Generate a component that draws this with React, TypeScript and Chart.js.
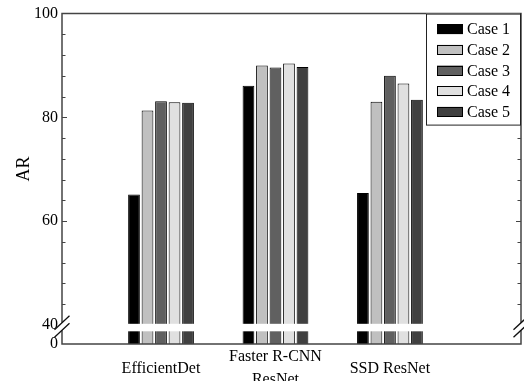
import React, { useEffect, useRef } from 'react';
import { Chart, registerables } from 'chart.js';

Chart.register(...registerables);

const categories = ['EfficientDet', 'Faster R-CNN\nResNet', 'SSD ResNet'];
const seriesNames = ['Case 1', 'Case 2', 'Case 3', 'Case 4', 'Case 5'];
const case1 = [65.1, 86.1, 65.4];
const case2 = [81.3, 90.0, 83.0];
const case3 = [83.1, 89.6, 88.0];
const case4 = [82.9, 90.4, 86.5];
const case5 = [82.8, 89.7, 83.4];
const seriesValues = [case1, case2, case3, case4, case5];
const seriesColors = ['#000000', '#c0c0c0', '#606060', '#e0e0e0', '#404040'];
const yMajorTicks = [40, 60, 80, 100];
const yBreakValue = 40;
const yAxisMin = 36.3;
const yAxisMax = 100;
const yMinorStep = 4;
const yBottomLabel = '0';
const yTitle = 'AR';

const FONT = '"Liberation Serif", "Times New Roman", serif';

const framePlugin = {
  id: 'brokenAxisFrame',
  afterDatasetsDraw(chart: any) {
    const { ctx, chartArea: a, scales } = chart;
    const y = scales.y;
    const yb = y.getPixelForValue(yBreakValue);
    const c1 = yb - 2;
    const c2 = yb + 5.5;
    ctx.save();
    // break band
    ctx.fillStyle = '#ffffff';
    ctx.fillRect(a.left + 1, yb - 1, a.right - a.left - 2, 7.5);
    // frame
    ctx.strokeStyle = '#444444';
    ctx.lineWidth = 1.5;
    ctx.beginPath();
    ctx.moveTo(a.left, c1);
    ctx.lineTo(a.left, a.top);
    ctx.lineTo(a.right, a.top);
    ctx.lineTo(a.right, c1);
    ctx.moveTo(a.left, c2);
    ctx.lineTo(a.left, a.bottom);
    ctx.lineTo(a.right, a.bottom);
    ctx.lineTo(a.right, c2);
    ctx.stroke();
    // inward ticks
    ctx.lineWidth = 1;
    ctx.beginPath();
    for (let v = yBreakValue + yMinorStep; v < yAxisMax; v += yMinorStep) {
      const py = Math.round(y.getPixelForValue(v)) + 0.5;
      const len = yMajorTicks.includes(v) ? 5 : 3.5;
      ctx.moveTo(a.left, py);
      ctx.lineTo(a.left + len, py);
      ctx.moveTo(a.right, py);
      ctx.lineTo(a.right - len, py);
    }
    ctx.stroke();
    // break slashes
    ctx.strokeStyle = '#111111';
    ctx.lineWidth = 1.3;
    ctx.beginPath();
    for (const x of [a.left, a.right]) {
      for (const c of [c1, c2]) {
        ctx.moveTo(x - 7.5, c + 7);
        ctx.lineTo(x + 7.5, c - 7);
      }
    }
    ctx.stroke();

    // legend
    const bw = 94;
    const bh = 111;
    const bx = a.right - 1 - bw;
    const by = a.top;
    ctx.fillStyle = '#ffffff';
    ctx.fillRect(bx, by, bw, bh);
    ctx.strokeStyle = '#222222';
    ctx.lineWidth = 1;
    ctx.strokeRect(bx + 0.5, by + 0.5, bw, bh);
    ctx.font = `16px ${FONT}`;
    ctx.textBaseline = 'middle';
    ctx.textAlign = 'left';
    chart.data.datasets.forEach((ds: any, i: number) => {
      const cy = by + 15.5 + i * 20.7;
      ctx.fillStyle = ds.backgroundColor;
      ctx.fillRect(bx + 11, cy - 5, 26, 10);
      ctx.strokeStyle = '#000000';
      ctx.strokeRect(bx + 11.5, Math.round(cy - 5) + 0.5, 25, 9);
      ctx.fillStyle = '#000000';
      ctx.fillText(ds.label, bx + 41, cy + 1);
    });

    // y title
    ctx.save();
    ctx.translate(24, 169);
    ctx.rotate(-Math.PI / 2);
    ctx.font = `18px ${FONT}`;
    ctx.textAlign = 'center';
    ctx.textBaseline = 'middle';
    ctx.fillStyle = '#000000';
    ctx.fillText(yTitle, 0, 0);
    ctx.restore();
    ctx.restore();
  },
};

export default function App() {
  const ref = useRef<HTMLCanvasElement | null>(null);
  useEffect(() => {
    if (!ref.current) return;
    const chart = new Chart(ref.current, {
      type: 'bar',
      data: {
        datasets: seriesNames.map((name, i) => ({
          label: name,
          data: seriesValues[i].map((v, j) => ({ x: j + 1, y: v })),
          backgroundColor: seriesColors[i],
          borderColor: '#000000',
          borderWidth: 1,
          borderSkipped: false,
          categoryPercentage: 0.59,
          barPercentage: 0.87,
        })),
      },
      options: {
        animation: false,
        responsive: false,
        devicePixelRatio: 1,
        layout: { padding: { left: 0, top: 13, right: 3, bottom: 0 } },
        plugins: { legend: { display: false }, tooltip: { enabled: false } },
        scales: {
          x: {
            type: 'linear',
            min: 0.135,
            max: 4.145,
            offset: false,
            grid: { display: false, drawTicks: false },
            border: { display: false },
            afterBuildTicks: (scale: any) => {
              scale.ticks = categories.map((_, i) => ({ value: i + 1 }));
            },
            afterFit: (scale: any) => {
              scale.height = 37;
            },
            ticks: {
              autoSkip: false,
              maxRotation: 0,
              minRotation: 0,
              padding: 13,
              crossAlign: 'center',
              color: '#000000',
              font: { family: FONT, size: 16, lineHeight: 1.45 },
              callback: (value: any) => {
                const c = categories[Math.round(Number(value)) - 1];
                return c ? c.split('\n') : '';
              },
            },
          },
          y: {
            type: 'linear',
            min: yAxisMin,
            max: yAxisMax,
            grid: { display: false, drawTicks: false },
            border: { display: false },
            afterBuildTicks: (scale: any) => {
              scale.ticks = [{ value: yAxisMin }, ...yMajorTicks.map((v) => ({ value: v }))];
            },
            afterFit: (scale: any) => {
              scale.width = 62;
            },
            ticks: {
              padding: 4,
              color: '#000000',
              font: { family: FONT, size: 16 },
              callback: (value: any) => (Number(value) === yAxisMin ? yBottomLabel : String(value)),
            },
          },
        },
      },
      plugins: [framePlugin],
    } as any);
    return () => chart.destroy();
  }, []);
  return (
    <div style={{ position: 'absolute', left: 0, top: 0, width: 524, height: 381, background: '#fff' }}>
      <canvas ref={ref} width={524} height={381} style={{ display: 'block' }} />
    </div>
  );
}
